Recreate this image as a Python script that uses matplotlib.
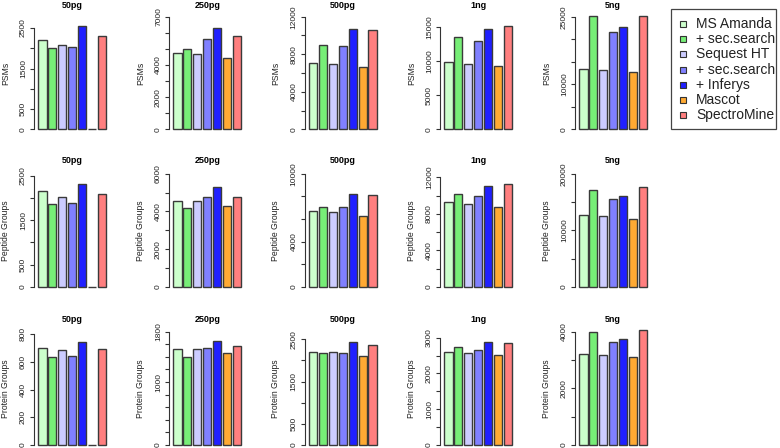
import numpy as np
import matplotlib.pyplot as plt
from matplotlib.patches import Rectangle

plt.rcParams['font.family'] = ['Liberation Sans', 'DejaVu Sans']

tools = ['MS Amanda', '+ sec.search', 'Sequest HT', '+ sec.search', '+ Inferys', 'Mascot', 'SpectroMine']
colors = ['#ccffcc', '#77ee77', '#ccccff', '#8080ff', '#2020ff', '#ffaa33', '#ff7f7f']
amounts = ['50pg', '250pg', '500pg', '1ng', '5ng']
metrics = ['PSMs', 'Peptide Groups', 'Protein Groups']

# values per amount, order as in tools
psms = [
    [2196, 1998, 2081, 2031, 2541, 0, 2294],
    [4719, 4969, 4710, 5613, 6279, 4449, 5780],
    [7050, 9009, 6944, 8902, 10680, 6623, 10576],
    [9789, 13490, 9545, 12906, 14659, 9205, 15049],
    [13461, 25148, 13092, 21672, 22781, 12648, 25200],
]
peptides = [
    [2148, 1856, 2028, 1894, 2313, 0, 2081],
    [4533, 4180, 4568, 4762, 5273, 4286, 4780],
    [6676, 7029, 6618, 7059, 8235, 6294, 8118],
    [9264, 10140, 9046, 9921, 11015, 8754, 11271],
    [12743, 17109, 12507, 15575, 16106, 12035, 17699],
]
proteins = [
    [697, 637, 682, 639, 742, 0, 694],
    [1519, 1403, 1520, 1535, 1646, 1461, 1567],
    [2192, 2185, 2192, 2177, 2437, 2106, 2366],
    [2599, 2730, 2571, 2665, 2879, 2516, 2860],
    [3217, 3988, 3193, 3632, 3739, 3122, 4047],
]
data = [psms, peptides, proteins]

# y axis limits and ticks per panel
ylim_top = [
    [2779, 7000, 12000, 16462, 25000],
    [2545, 6000, 10000, 12394, 20000],
    [817, 1800, 2680, 3168, 4000],
]
tick_step = [
    [500, 1000, 2000, 5000, 5000],
    [500, 1000, 2000, 2000, 5000],
    [200, 200, 500, 500, 1000],
]
tick_max = [
    [2500, 7000, 12000, 15000, 25000],
    [2500, 6000, 10000, 12000, 20000],
    [800, 1800, 2500, 3000, 4000],
]
tick_shown = [
    [[0, 500, 1500, 2500], [0, 2000, 4000, 7000], [0, 4000, 8000, 12000], [0, 5000, 10000, 15000], [0, 10000, 25000]],
    [[0, 500, 1500, 2500], [0, 2000, 4000, 6000], [0, 4000, 10000], [0, 4000, 8000, 12000], [0, 10000, 20000]],
    [[0, 200, 400, 600, 800], [0, 1000, 1800], [0, 500, 1500, 2500], [0, 1000, 2000, 3000], [0, 2000, 4000]],
]

W, H = 780, 448
fig = plt.figure(figsize=(W / 100, H / 100), dpi=100)

bar_start = [38.3, 173.3, 309.0, 444.3, 579.3]
row_zero = [129.3, 287.0, 445.0]
row_top = [16.7, 173.7, 331.7]
title_y = [5.0, 160.7, 319.0]
px_unit = 8.256
ax_w = 76

x = 0.2 + 1.2 * np.arange(len(tools))

for r in range(3):
    for c in range(5):
        left = bar_start[c] - 4
        ax = fig.add_axes([left / W, 1 - row_zero[r] / H, ax_w / W, (row_zero[r] - row_top[r]) / H])
        ax.patch.set_visible(False)
        ax.bar(x, data[r][c], width=1.0, align='edge', color=colors,
               edgecolor='#3a3a3a', linewidth=1.0, clip_on=False)
        x0 = 0.2 - 4 / px_unit
        ax.set_xlim(x0, x0 + ax_w / px_unit)
        ax.set_ylim(0, ylim_top[r][c])
        for s in ['top', 'right', 'bottom']:
            ax.spines[s].set_visible(False)
        ax.spines['left'].set_bounds(0, tick_max[r][c])
        ax.spines['left'].set_color('#333333')
        ax.spines['left'].set_linewidth(0.8)
        ticks = np.arange(0, tick_max[r][c] + 1, tick_step[r][c])
        ax.set_yticks(ticks)
        ax.set_yticklabels([str(t) if t in tick_shown[r][c] else '' for t in ticks],
                           rotation=90, va='center', fontsize=6, color='#222222')
        ax.tick_params(axis='y', length=2.7, width=0.8, pad=2.5, color='#333333')
        ax.set_xticks([])
        fig.text((bar_start[c] + 33.9) / W, 1 - title_y[r] / H, amounts[c],
                 ha='center', va='center', fontsize=6.5, fontweight='bold')
        fig.text((left - 29) / W, 1 - (row_zero[r] + row_top[r]) / 2 / H, metrics[r],
                 ha='center', va='center', rotation=90, fontsize=6.2, color='#222222')

# legend
lax = fig.add_axes([0, 0, 1, 1])
lax.set_xlim(0, W)
lax.set_ylim(H, 0)
lax.axis('off')
lax.add_patch(Rectangle((671, 9), 105.3, 120.3, fill=False, edgecolor='#444444', linewidth=0.9))
for i, (name, col) in enumerate(zip(tools, colors)):
    yc = 24.3 + i * 15.07
    lax.add_patch(Rectangle((679.7, yc - 3), 6, 6, facecolor=col, edgecolor='#333333', linewidth=0.8))
    lax.text(696, yc, name, ha='left', va='center', fontsize=10, color='#222222')

fig.savefig('out.png', dpi=100)
